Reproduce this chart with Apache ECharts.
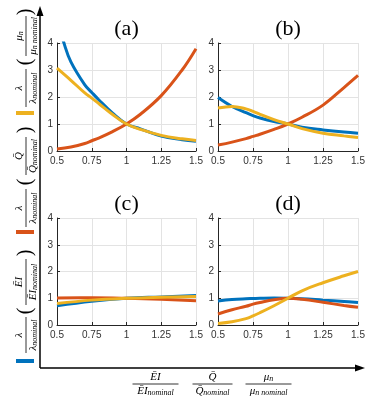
<!DOCTYPE html>
<html>
<head>
<meta charset="utf-8">
<script src="https://cdn.jsdelivr.net/npm/echarts@6/dist/echarts.min.js"></script>
<style>
  html, body { margin: 0; padding: 0; background: #fff; }
  #chart { width: 374px; height: 406px; }
</style>
</head>
<body>
<div id="chart"></div>
<script>
// x samples
const xFine = [0.5, 0.6, 0.7, 0.75, 0.8, 0.9, 1, 1.1, 1.25, 1.4, 1.5];
const xBlueA = [0.5, 0.55, 0.6, 0.7, 0.75, 0.8, 0.9, 1, 1.1, 1.25, 1.4, 1.5];
const xCoarse = [0.5, 0.75, 1, 1.25, 1.5];

// (a)
const aBlue = [4.9, 4.0, 3.3, 2.45, 2.17, 1.9, 1.4, 1.0, 0.82, 0.55, 0.42, 0.36];
const aOrange = [0.07, 0.15, 0.28, 0.38, 0.48, 0.72, 1.0, 1.36, 2.05, 3.0, 3.79];
const aYellow = [3.07, 2.62, 2.15, 1.96, 1.76, 1.35, 1.0, 0.8, 0.58, 0.45, 0.39];
// (b)
const bBlue = [1.98, 1.65, 1.42, 1.31, 1.22, 1.09, 1.0, 0.88, 0.78, 0.7, 0.66];
const bOrange = [0.22, 0.33, 0.46, 0.54, 0.62, 0.8, 1.0, 1.25, 1.7, 2.35, 2.8];
const bYellow = [1.59, 1.65, 1.56, 1.47, 1.36, 1.16, 1.0, 0.83, 0.66, 0.56, 0.5];
// (c)
const cBlue = [0.72, 0.89, 1.0, 1.05, 1.1];
const cOrange = [1.01, 1.02, 1.0, 0.96, 0.91];
const cYellow = [0.8, 0.93, 1.0, 1.04, 1.07];
// (d)
const dBlue = [0.9, 0.95, 0.98, 0.99, 1.0, 1.01, 1.0, 0.98, 0.93, 0.88, 0.84];
const dOrange = [0.41, 0.57, 0.7, 0.78, 0.84, 0.94, 1.0, 0.96, 0.85, 0.73, 0.66];
const dYellow = [0.06, 0.12, 0.24, 0.34, 0.46, 0.72, 1.0, 1.28, 1.58, 1.84, 2.0];

const panelTitles = ['(a)', '(b)', '(c)', '(d)'];

const BLUE = '#0072BD', ORANGE = '#D95319', YELLOW = '#EDB120';
const SERIF = 'Liberation Serif';

const grids = [
  { left: 57, top: 43, width: 139, height: 108 },
  { left: 218, top: 43, width: 140, height: 108 },
  { left: 57, top: 218, width: 139, height: 107 },
  { left: 218, top: 218, width: 140, height: 107 },
];

const zip = (xs, ys) => xs.map((x, i) => [x, ys[i]]);

const panels = [
  [[xBlueA, aBlue], [xFine, aOrange], [xFine, aYellow]],
  [[xFine, bBlue], [xFine, bOrange], [xFine, bYellow]],
  [[xCoarse, cBlue], [xCoarse, cOrange], [xCoarse, cYellow]],
  [[xFine, dBlue], [xFine, dOrange], [xFine, dYellow]],
];
const colors = [BLUE, ORANGE, YELLOW];

const series = [];
panels.forEach((p, i) => {
  p.forEach(([xs, ys], k) => {
    series.push({
      type: 'line',
      xAxisIndex: i,
      yAxisIndex: i,
      data: zip(xs, ys),
      smooth: 0.4,
      symbol: 'none',
      clip: true,
      z: 2 + k,
      lineStyle: { width: 3, color: colors[k] },
    });
  });
});

const axisCommon = {
  axisLine: { show: true, onZero: false, lineStyle: { color: '#262626', width: 1 } },
  axisTick: { show: true, inside: true, length: 3, lineStyle: { color: '#262626' } },
  axisLabel: { color: '#333', fontSize: 10, fontFamily: 'Liberation Sans', margin: 5 },
  splitLine: { show: true, lineStyle: { color: '#e3e3e3', width: 1 } },
};

const xAxis = grids.map((g, i) => ({
  gridIndex: i, type: 'value', min: 0.5, max: 1.5, interval: 0.25, ...axisCommon,
}));
const yAxis = grids.map((g, i) => ({
  gridIndex: i, type: 'value', min: 0, max: 4, interval: 1, ...axisCommon,
  axisLabel: { ...axisCommon.axisLabel, margin: 4 },
}));

const title = panelTitles.map((t, i) => ({
  text: t,
  left: grids[i].left + grids[i].width / 2,
  top: grids[i].top - 25,
  textAlign: 'center',
  padding: 0,
  textStyle: { fontFamily: SERIF, fontSize: 22, fontWeight: 'normal', color: '#000' },
}));

// fraction made of graphic parts, centred at local (cx, 0)
const rich = {
  b: { fontFamily: SERIF, fontStyle: 'italic', fontSize: 11, lineHeight: 12, fill: '#000', verticalAlign: 'middle' },
  s: { fontFamily: SERIF, fontStyle: 'italic', fontSize: 8, lineHeight: 8, fill: '#000', verticalAlign: 'bottom' },
};
function frac(cx, num, den, w) {
  return [
    { type: 'text', x: cx, y: -1, style: { text: num, rich, align: 'center', verticalAlign: 'bottom' } },
    { type: 'line', shape: { x1: cx - w / 2, y1: 0, x2: cx + w / 2, y2: 0 }, style: { stroke: '#000', lineWidth: 0.8 } },
    { type: 'text', x: cx, y: 1, style: { text: den, rich, align: 'center', verticalAlign: 'top' } },
  ];
}
function paren(cx, ch) {
  return { type: 'text', x: cx, y: 0, style: { text: ch, fontFamily: SERIF, fontSize: 20, fill: '#000', align: 'center', verticalAlign: 'middle' } };
}
function leftLabel(yStart, lamW, parts) {
  return {
    type: 'group', x: 26, y: yStart, rotation: Math.PI / 2,
    children: [].concat(frac(lamW / 2, '{b|λ}', '{b|λ}{s|nominal}', lamW), parts),
  };
}

const graphic = [
  // axes arrows
  { type: 'line', shape: { x1: 40, y1: 368, x2: 40, y2: 14 }, style: { stroke: '#000', lineWidth: 1.5 } },
  { type: 'polygon', shape: { points: [[40, 6], [36.5, 16], [43.5, 16]] }, style: { fill: '#000' } },
  { type: 'line', shape: { x1: 40, y1: 368, x2: 356, y2: 368 }, style: { stroke: '#000', lineWidth: 1.5 } },
  { type: 'polygon', shape: { points: [[365, 368], [355, 364.5], [355, 371.5]] }, style: { fill: '#000' } },
  // legend swatches
  { type: 'rect', shape: { x: 16, y: 111, width: 18, height: 4 }, style: { fill: YELLOW } },
  { type: 'rect', shape: { x: 16, y: 230, width: 18, height: 4 }, style: { fill: ORANGE } },
  { type: 'rect', shape: { x: 16, y: 359, width: 18, height: 4 }, style: { fill: BLUE } },
  // rotated legend texts
  leftLabel(107, 38, [paren(45, '('), ...frac(71, '{b|μ}{s|n}', '{b|μ}{s|n nominal}', 40), paren(95, ')')]),
  leftLabel(227, 38, [paren(45, '('), ...frac(71, '{b|Q̄}', '{b|Q̄}{s|nominal}', 38), paren(97, ')')]),
  leftLabel(353, 36, [paren(42, '('), ...frac(71, '{b|ĒI}', '{b|ĒI}{s|nominal}', 46), paren(100, ')')]),
  // bottom labels
  { type: 'group', x: 0, y: 384, children: [].concat(
    frac(155.5, '{b|ĒI}', '{b|ĒI}{s|nominal}', 46),
    frac(212.5, '{b|Q̄}', '{b|Q̄}{s|nominal}', 40),
    frac(268.5, '{b|μ}{s|n}', '{b|μ}{s|n nominal}', 46)
  ) },
];

const chart = echarts.init(document.getElementById('chart'), null, { renderer: 'canvas' });
chart.setOption({
  backgroundColor: '#fff',
  animation: false,
  title,
  grid: grids.map(g => ({ ...g, containLabel: false, outerBoundsMode: 'none' })),
  xAxis,
  yAxis,
  series,
  graphic,
});
</script>
</body>
</html>
